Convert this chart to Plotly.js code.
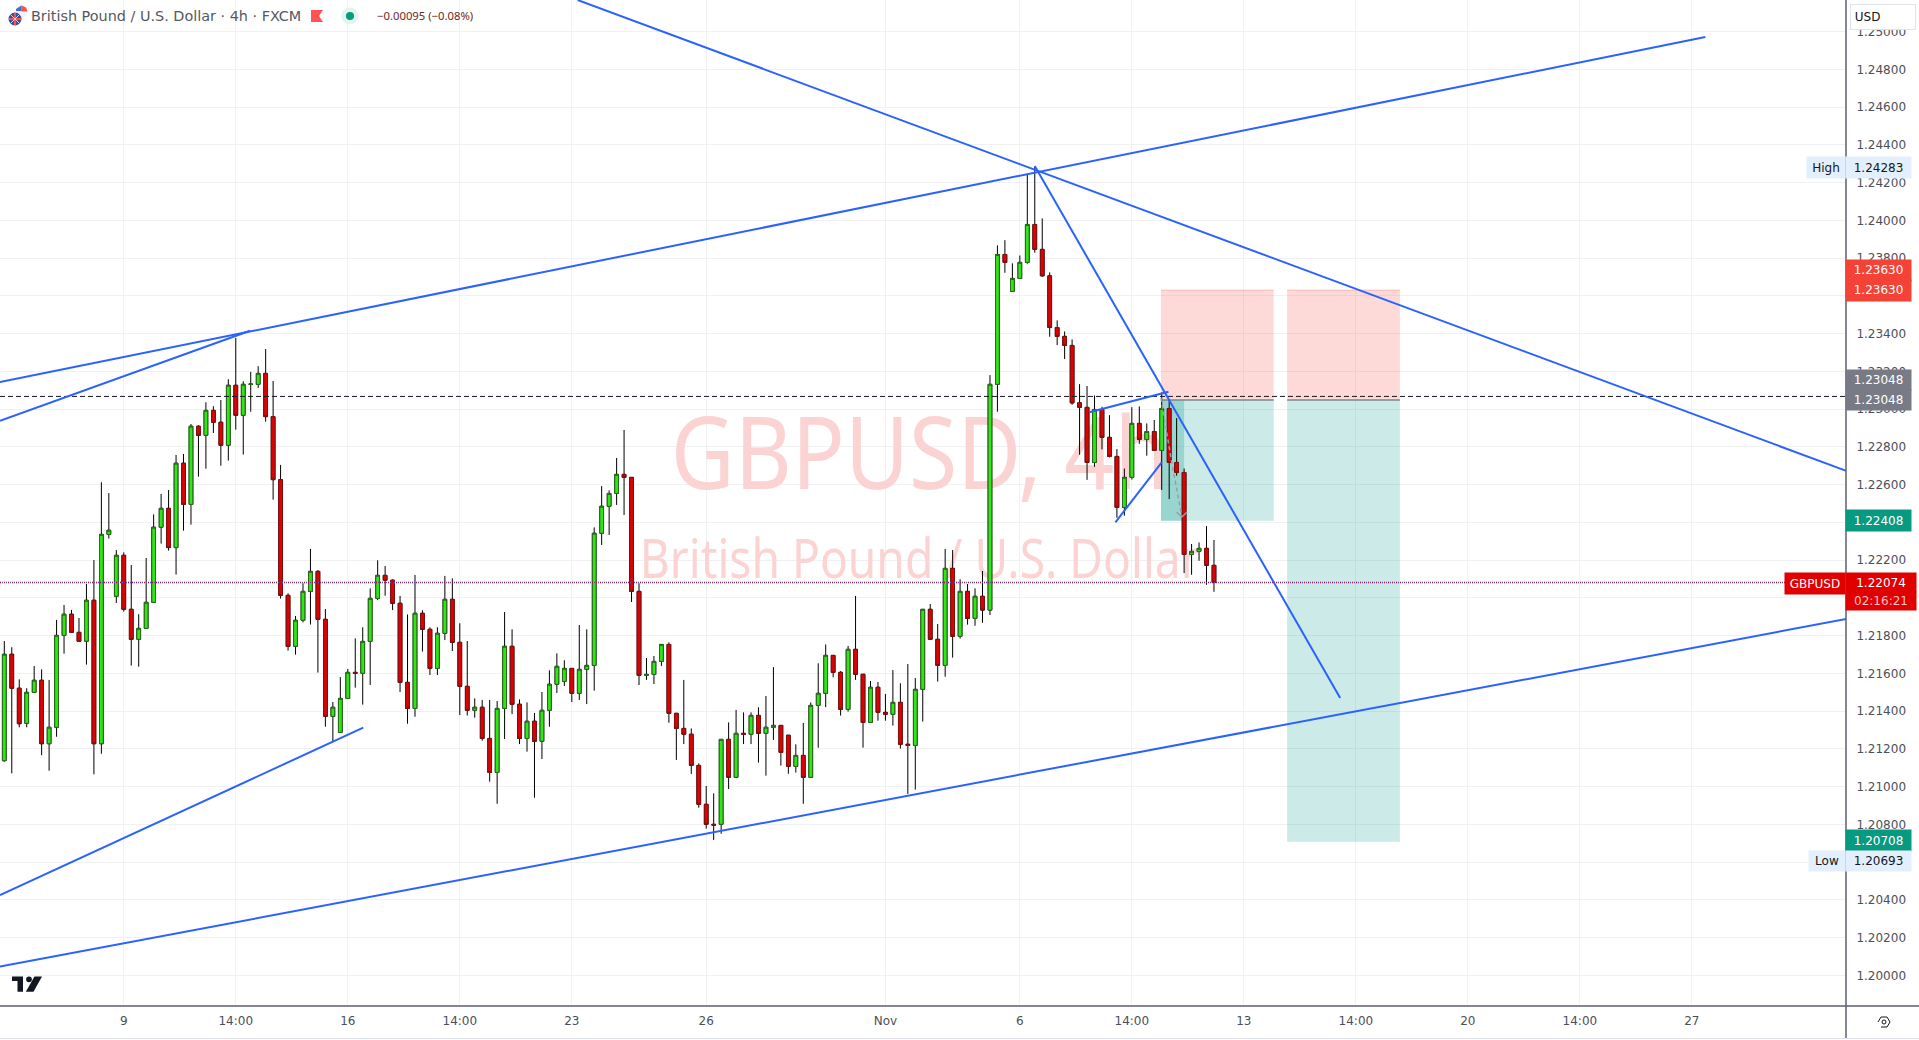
<!DOCTYPE html>
<html><head><meta charset="utf-8">
<style>html,body{margin:0;padding:0;background:#fff;overflow:hidden}#c{width:1919px;height:1040px}</style>
<script src="https://cdn.plot.ly/plotly-3.0.1.min.js"></script></head>
<body><div id="c"></div>
<script>
const opens=[1.21137,1.21701,1.21521,1.21335,1.21499,1.21563,1.21227,1.21314,1.21801,1.21913,
1.21817,1.21770,1.21987,1.21227,1.22336,1.22008,1.22225,1.21939,1.21780,1.21838,
1.21976,1.22374,1.22474,1.22266,1.22713,1.22495,1.22909,1.22861,1.22993,1.22930,
1.22808,1.23126,1.22967,1.23131,1.23131,1.23189,1.22960,1.22626,1.22013,1.21743,
1.21881,1.22034,1.22140,1.21886,1.21372,1.21287,1.21467,1.21605,1.21600,1.21769,
1.21997,1.22119,1.22093,1.21971,1.21552,1.21414,1.21918,1.21833,1.21626,1.21812,
1.21992,1.21764,1.21531,1.21404,1.21420,1.21255,1.21075,1.21414,1.21743,1.21436,
1.21255,1.21346,1.21240,1.21404,1.21542,1.21557,1.21626,1.21494,1.21621,1.21642,
1.22342,1.22485,1.22553,1.22654,1.22638,1.22034,1.21589,1.21594,1.21663,1.21753,
1.21388,1.21308,1.21277,1.21112,1.20906,1.20800,1.20800,1.21250,1.21049,1.21282,
1.21277,1.21377,1.21282,1.21314,1.21324,1.21272,1.21107,1.21165,1.21049,1.21430,
1.21494,1.21695,1.21605,1.21409,1.21727,1.21595,1.21340,1.21526,1.21393,1.21383,
1.21446,1.21224,1.21218,1.21515,1.21939,1.21780,1.21642,1.22156,1.21796,1.22034,
1.21891,1.22008,1.21935,1.23131,1.23819,1.23623,1.23692,1.23777,1.23978,1.23846,
1.23706,1.23432,1.23385,1.23337,1.23033,1.23009,1.22717,1.22998,1.22850,1.22749,
1.22479,1.22638,1.22924,1.22839,1.22881,1.22781,1.23003,1.22717,1.22664,1.22230,
1.22246,1.22262,1.22172];
const highs=[1.21771,1.21738,1.21568,1.21521,1.21639,1.21621,1.21565,1.21883,1.21962,1.21936,
1.21893,1.22073,1.22200,1.22612,1.22555,1.22253,1.22241,1.22174,1.21913,1.22211,
1.22442,1.22550,1.22571,1.22757,1.22762,1.22921,1.22914,1.23036,1.23015,1.23048,
1.23158,1.23377,1.23147,1.23197,1.23227,1.23318,1.23149,1.22704,1.22024,1.21904,
1.22077,1.22259,1.22147,1.21941,1.21448,1.21580,1.21623,1.21785,1.21844,1.22050,
1.22199,1.22168,1.22098,1.22010,1.21912,1.22121,1.21934,1.21844,1.21844,1.22116,
1.22103,1.21865,1.21771,1.21467,1.21459,1.21459,1.21453,1.21925,1.21833,1.21462,
1.21446,1.21390,1.21501,1.21616,1.21706,1.21669,1.21626,1.21856,1.21833,1.22373,
1.22592,1.22569,1.22741,1.22889,1.22638,1.22077,1.21681,1.21692,1.21753,1.21764,
1.21388,1.21565,1.21308,1.21123,1.21003,1.20964,1.21250,1.21340,1.21406,1.21393,
1.21393,1.21420,1.21480,1.21633,1.21324,1.21273,1.21224,1.21337,1.21446,1.21653,
1.21753,1.21695,1.21612,1.21745,1.22010,1.21595,1.21559,1.21554,1.21490,1.21617,
1.21547,1.21649,1.21575,1.21939,1.21967,1.21861,1.22259,1.22253,1.22098,1.22073,
1.22050,1.22142,1.23180,1.23867,1.23895,1.23772,1.23814,1.24240,1.24283,1.24010,
1.23724,1.23470,1.23411,1.23369,1.23132,1.23122,1.23072,1.23012,1.22968,1.22788,
1.22685,1.23010,1.23014,1.22924,1.22942,1.23088,1.23051,1.22952,1.22685,1.22285,
1.22293,1.22380,1.22306];
const lows=[1.21132,1.21070,1.21314,1.21314,1.21499,1.21166,1.21084,1.21264,1.21704,1.21817,
1.21770,1.21646,1.21065,1.21174,1.22314,1.21973,1.21927,1.21641,1.21635,1.21838,
1.21976,1.22287,1.22250,1.22123,1.22356,1.22388,1.22642,1.22684,1.22873,1.22700,
1.22727,1.22891,1.22759,1.22986,1.23112,1.22933,1.22520,1.21996,1.21720,1.21699,
1.21870,1.21858,1.21604,1.21317,1.21234,1.21287,1.21467,1.21524,1.21434,1.21538,
1.21988,1.22011,1.21935,1.21501,1.21333,1.21370,1.21715,1.21591,1.21591,1.21776,
1.21718,1.21379,1.21376,1.21365,1.21243,1.21026,1.20909,1.21252,1.21384,1.21225,
1.21185,1.20941,1.21146,1.21317,1.21496,1.21533,1.21448,1.21459,1.21437,1.21508,
1.22280,1.22333,1.22492,1.22439,1.21978,1.21538,1.21565,1.21543,1.21639,1.21338,
1.21141,1.21225,1.21067,1.20888,1.20777,1.20717,1.20750,1.20987,1.21049,1.21225,
1.21225,1.21127,1.21058,1.21247,1.21111,1.21068,1.21074,1.20909,1.21049,1.21206,
1.21421,1.21579,1.21376,1.21397,1.21565,1.21206,1.21340,1.21349,1.21349,1.21323,
1.21201,1.20961,1.20984,1.21344,1.21780,1.21556,1.21582,1.21683,1.21784,1.21858,
1.21852,1.21868,1.21909,1.22986,1.23722,1.23623,1.23692,1.23770,1.23828,1.23701,
1.23383,1.23339,1.23265,1.23023,1.22758,1.22625,1.22694,1.22786,1.22744,1.22424,
1.22435,1.22627,1.22816,1.22753,1.22781,1.22571,1.22523,1.22647,1.22131,1.22122,
1.22196,1.22069,1.22032];
const closes=[1.21701,1.21521,1.21333,1.21499,1.21563,1.21227,1.21314,1.21801,1.21913,1.21817,
1.21770,1.21987,1.21227,1.22336,1.22358,1.22225,1.21939,1.21780,1.21838,1.21976,
1.22374,1.22474,1.22266,1.22713,1.22495,1.22909,1.22861,1.22993,1.22930,1.22808,
1.23126,1.22967,1.23131,1.23132,1.23189,1.22960,1.22626,1.22013,1.21743,1.21881,
1.22034,1.22140,1.21886,1.21372,1.21420,1.21467,1.21605,1.21600,1.21769,1.21997,
1.22119,1.22093,1.21971,1.21552,1.21414,1.21918,1.21833,1.21626,1.21812,1.21992,
1.21764,1.21531,1.21404,1.21420,1.21255,1.21075,1.21414,1.21743,1.21436,1.21255,
1.21346,1.21240,1.21404,1.21542,1.21637,1.21626,1.21494,1.21621,1.21642,1.22342,
1.22485,1.22553,1.22654,1.22638,1.22034,1.21589,1.21594,1.21663,1.21753,1.21388,
1.21308,1.21277,1.21112,1.20906,1.20800,1.20796,1.21250,1.21049,1.21282,1.21277,
1.21377,1.21282,1.21314,1.21324,1.21181,1.21107,1.21165,1.21049,1.21430,1.21494,
1.21695,1.21605,1.21409,1.21727,1.21595,1.21340,1.21526,1.21393,1.21383,1.21446,
1.21224,1.21218,1.21515,1.21939,1.21780,1.21642,1.22156,1.21796,1.22034,1.21891,
1.22008,1.21935,1.23131,1.23819,1.23777,1.23692,1.23777,1.23978,1.23846,1.23706,
1.23432,1.23385,1.23337,1.23033,1.23009,1.22717,1.22998,1.22850,1.22749,1.22479,
1.22638,1.22924,1.22839,1.22881,1.22781,1.23003,1.22717,1.22664,1.22230,1.22246,
1.22262,1.22172,1.22081];
const tickBars=[16,31,46,61,76,94,118,136,151,166,181,196,211,226];
const tickTexts=['9','14:00','16','14:00','23','26','Nov','6','14:00','13','14:00','20','14:00','27'];
const priceTicks=[1.200,1.202,1.204,1.206,1.208,1.210,1.212,1.214,1.216,1.218,1.220,1.222,1.224,1.226,1.228,1.230,1.232,1.234,1.236,1.238,1.240,1.242,1.244,1.246,1.248,1.250];
const trendLines=[
 {x:[76.79,246.7],y:[1.25167,1.22672]},
 {x:[-0.58,227.8],y:[1.23143,1.24971]},
 {x:[-0.58,32.9],y:[1.22938,1.23415]},
 {x:[-0.58,48.07],y:[1.20425,1.21312]},
 {x:[-0.58,246.7],y:[1.20046,1.21888]},
 {x:[138.0,178.9],y:[1.24288,1.21469]},
 {x:[145.3,155.9],y:[1.22983,1.23092]},
 {x:[148.8,155.0],y:[1.22400,1.22718]}
];
const forecastX=[154.9,156.4,157.3,157.7];
const forecastY=[1.23059,1.22704,1.22518,1.22428];
const forecastHeadX=[157.0,157.7,158.4];
const forecastHeadY=[1.22455,1.22428,1.22455];
const stopPrice=1.23630, entryPrice=1.23048, target1=1.22408, target2=1.20708;
const box1X=[154.9,170.0], box2X=[171.8,186.9], box0X=[154.9,158.0];
const lastPrice=1.22081, markPrice=1.23067;
const wm1='GBPUSD, 4h', wm2='British Pound / U.S. Dollar';

const FONT='"DejaVu Sans", sans-serif';
const xMin=-0.576,xMax=246.64,yMin=1.198374,yMax=1.251672;
const PW=1846,PH=1006;
const fx=x=>x/PW, fy=y=>1-y/PH;
const idx=opens.map((_,i)=>i);
const yrange=[yMin,yMax];
const rectXY=(x,a,b)=>({x:[x[0],x[1],x[1],x[0],x[0]],y:[a,a,b,b,a]});
const fillT=(r,color,ya)=>({type:'scatter',mode:'lines',x:r.x,y:r.y,fill:'toself',fillcolor:color,line:{width:0},hoverinfo:'skip',yaxis:ya,showlegend:false});
const lineT=(x,y,color,width,dash,ya)=>({type:'scatter',mode:'lines',x,y,line:{color,width,dash:dash||'solid'},hoverinfo:'skip',yaxis:ya,showlegend:false});

const traces=[
 {type:'scatter',mode:'text',x:[122.6],y:[1.22709],text:[wm1],textposition:'middle center',textfont:{family:'"Noto Sans",sans-serif',size:101,color:'#fcd3d3'},hoverinfo:'skip',showlegend:false},
 {type:'scatter',mode:'text',x:[122.6],y:[1.22179],text:[wm2],textposition:'middle center',textfont:{family:'"Noto Sans",sans-serif',size:54,color:'#fcd3d3'},hoverinfo:'skip',showlegend:false},
 fillT(rectXY(box1X,entryPrice,stopPrice),'rgba(244,67,54,0.2)','y2'),
 fillT(rectXY(box2X,entryPrice,stopPrice),'rgba(244,67,54,0.2)','y2'),
 fillT(rectXY(box1X,target1,entryPrice),'rgba(0,150,136,0.2)','y2'),
 fillT(rectXY(box2X,target2,entryPrice),'rgba(0,150,136,0.2)','y2'),
 fillT(rectXY(box0X,target1,entryPrice),'rgba(0,150,136,0.25)','y2'),
 lineT(box1X,[stopPrice,stopPrice],'rgba(244,67,54,0.3)',1,null,'y2'),
 lineT(box2X,[stopPrice,stopPrice],'rgba(244,67,54,0.3)',1,null,'y2'),
 lineT(box1X,[entryPrice,entryPrice],'#80838c',1.5,null,'y2'),
 lineT(box2X,[entryPrice,entryPrice],'#80838c',1.5,null,'y2'),
 {type:'candlestick',x:idx,open:opens,high:highs,low:lows,close:closes,yaxis:'y3',
  increasing:{line:{color:'#000000',width:1},fillcolor:'#2ee812'},decreasing:{line:{color:'#000000',width:1},fillcolor:'#e00000'},whiskerwidth:0,hoverinfo:'skip',showlegend:false},
 {type:'candlestick',x:idx,open:opens,close:closes,high:opens.map((o,i)=>Math.max(o,closes[i])),low:opens.map((o,i)=>Math.min(o,closes[i])),yaxis:'y3',
  increasing:{line:{color:'#2b6a1f',width:1},fillcolor:'#2ee812'},decreasing:{line:{color:'#7f1212',width:1},fillcolor:'#e00000'},whiskerwidth:0,hoverinfo:'skip',showlegend:false},
 lineT([xMin,xMax],[markPrice,markPrice],'#131722',1,'5px,3px','y3'),
 lineT([xMin,xMax],[lastPrice,lastPrice],'#e00000',1.4,'1px,3px','y3'),
 lineT([xMin,xMax],[lastPrice,lastPrice],'#2962ff',1.4,'0px,2px,1px,1px','y3'),
 lineT(forecastX,forecastY,'#9a9da6',1.5,'4px,3px','y3'),
 lineT(forecastHeadX,forecastHeadY,'#9a9da6',1.5,null,'y3')
];
trendLines.forEach(t=>traces.push(lineT(t.x,t.y,'#2962ff',2,null,'y3')));

const ann=[];
const txt=(t,x,y,o)=>ann.push(Object.assign({text:t,x:fx(x),y:fy(y),xref:'paper',yref:'paper',showarrow:false,xanchor:'left',yanchor:'middle',font:{family:FONT,size:12,color:'#131722'}},o||{}));
const box=(t,x0,y0,x1,y1,bg,col,size)=>ann.push({text:t,x:fx((x0+x1)/2),y:fy((y0+y1)/2),xref:'paper',yref:'paper',showarrow:false,xanchor:'center',yanchor:'middle',width:x1-x0,height:y1-y0,bgcolor:bg,borderpad:0,align:'center',valign:'middle',font:{family:FONT,size:size||12,color:col}});
txt('British Pound / U.S. Dollar · 4h · FXCM',29,16,{font:{family:FONT,size:14.4,color:'#555862'}});
txt('−0.00095 (−0.08%)',375,16,{font:{family:'"Noto Sans",sans-serif',size:11.3,color:'#6b2a1e'}});
box('&nbsp;USD',1851,5,1915,29,'#ffffff','#131722',12);
ann[ann.length-1].bordercolor='#e0e3eb';ann[ann.length-1].borderwidth=1;ann[ann.length-1].align='left';
box('High',1807,157,1845,178,'#e3effd','#131722');
box('1.24283',1846,157,1911,178,'#e3effd','#131722');
box('1.23630',1846,260,1911,280.5,'#f44336','#ffffff');
box('1.23630',1846,280.5,1911,301,'#f44336','#ffffff');
box('1.23048',1846,370,1911,390,'#787b86','#ffffff');
box('1.23048',1846,390,1911,410,'#787b86','#ffffff');
box('1.22408',1846,510,1911,531,'#089981','#ffffff');
box('GBPUSD',1785,573,1845,594,'#e00000','#ffffff');
box('1.22074',1846,573,1916,592,'#e00000','#ffffff');
box('02:16:21',1846,592,1916,610,'#e00000','#f9c0c0');
box('1.20708',1846,830,1911,851,'#089981','#ffffff');
box('Low',1809,851,1845,871,'#e3effd','#131722');
box('1.20693',1846,851,1911,871,'#e3effd','#131722');

const shp=[];
const pl=(x0,y0,x1,y1,color,w)=>shp.push({type:'line',xref:'paper',yref:'paper',x0:fx(x0),y0:fy(y0),x1:fx(x1),y1:fy(y1),line:{color,width:w},layer:'above'});
const circ=(cx,cy,r,fill,lc)=>shp.push({type:'circle',xref:'paper',yref:'paper',x0:fx(cx-r),x1:fx(cx+r),y0:fy(cy-r),y1:fy(cy+r),fillcolor:fill,line:{width:lc?1:0,color:lc||fill},layer:'above'});
const poly=(pts,fill,lc,w)=>shp.push({type:'path',xref:'paper',yref:'paper',path:'M'+pts.map(p=>fx(p[0])+','+fy(p[1])).join('L')+(fill?'Z':''),fillcolor:fill||'rgba(0,0,0,0)',line:{width:w||0,color:lc||fill||'#000'},layer:'above'});
pl(1846,0,1846,1038,'#5d606b',1.5);
pl(0,1006,1919,1006,'#5d606b',1.5);
pl(0,1038.5,1919,1038.5,'#e0e3eb',1);
poly([[1846,393],[1852,397],[1846,401]],'#131722');
circ(21.5,11.5,6,'#f2f2f2');
poly([[21.5,5.5],[26,7.5],[27.5,11.5],[21.5,11.5]],'#ef5350');
poly([[16,9],[21.5,5.5],[21.5,11],[16,11]],'#3f6fd8');
circ(15,19,6.5,'#2f4fa8');
pl(9,19,21,19,'#ef5350',2.2);
pl(15,13,15,25,'#ef5350',2.2);
pl(10.5,14.5,19.5,23.5,'#f0c8c8',1);
pl(19.5,14.5,10.5,23.5,'#f0c8c8',1);
poly([[311,10],[323,10],[319,16],[323,22],[311,22]],'#ff5252');
circ(350,16,8.5,'#e2f4f0');
circ(350,16,4,'#089981');
poly([[1906,15.5],[1908.5,18],[1911,15.5]],null,'#131722',1.2);
poly([[12,976.5],[23,976.5],[23,991.7],[17.5,991.7],[17.5,981],[12,981]],'#131722');
circ(29,979.3,2.9,'#131722');
poly([[34.5,976.5],[42,976.5],[33.5,991.7],[25.8,991.7]],'#131722');
poly([[1878,1022],[1881,1017],[1887,1017],[1890,1022],[1887,1027],[1881,1027]],null,'#131722',1);
shp.push({type:'circle',xref:'paper',yref:'paper',x0:fx(1882),x1:fx(1886),y0:fy(1024),y1:fy(1020),line:{color:'#131722',width:1},fillcolor:'rgba(0,0,0,0)',layer:'above'});

const layout={
 width:1919,height:1040,margin:{l:0,r:73,t:0,b:34,pad:0},paper_bgcolor:'#ffffff',plot_bgcolor:'#ffffff',showlegend:false,hovermode:false,dragmode:false,boxgap:0.5,boxgroupgap:0,boxmode:'overlay',
 xaxis:{range:[xMin,xMax],tickmode:'array',tickvals:tickBars,ticktext:tickTexts,showgrid:true,gridcolor:'#f1f2f5',gridwidth:1,zeroline:false,showline:false,ticks:'outside',ticklen:4,tickcolor:'rgba(0,0,0,0)',tickfont:{family:FONT,size:12,color:'#4d4f57'},rangeslider:{visible:false},fixedrange:true},
 yaxis:{range:yrange,side:'right',tickmode:'array',tickvals:priceTicks,tickformat:'.5f',showgrid:true,gridcolor:'#f0f1f3',gridwidth:1,zeroline:false,showline:false,ticks:'outside',ticklen:7,tickcolor:'rgba(0,0,0,0)',tickfont:{family:FONT,size:12,color:'#4d4f57'},fixedrange:true},
 yaxis2:{range:yrange,overlaying:'y',visible:false,fixedrange:true},
 yaxis3:{range:yrange,overlaying:'y',visible:false,fixedrange:true},
 annotations:ann,shapes:shp
};
const wmWidths={};wmWidths[wm1]=498;wmWidths[wm2]=560;
Plotly.newPlot('c',traces,layout,{displayModeBar:false,staticPlot:true}).then(()=>{
 document.querySelectorAll('#c .textpoint text').forEach(t=>{
  const w=wmWidths[t.textContent];
  if(w){t.setAttribute('textLength',w);t.setAttribute('lengthAdjust','spacingAndGlyphs');}
 });
});
</script></body></html>
